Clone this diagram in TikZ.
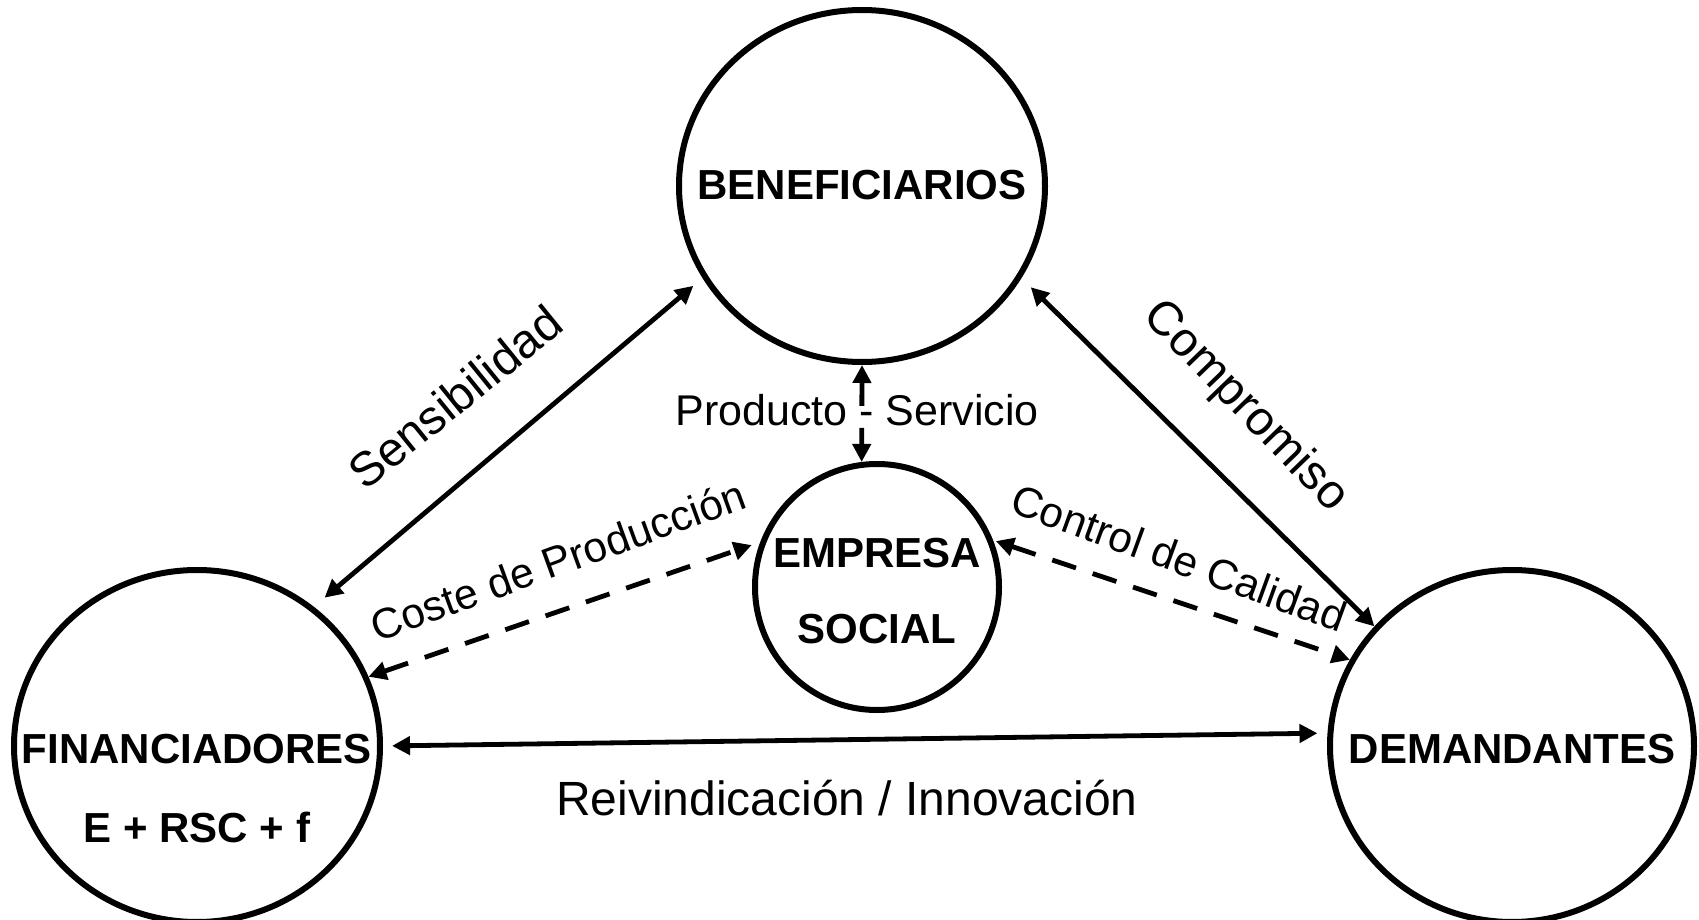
\documentclass[tikz,border=0pt]{standalone}
\usepackage{fontspec}
\setmainfont{Liberation Sans}
\usetikzlibrary{arrows.meta,shapes.geometric}
\begin{document}
\begin{tikzpicture}[x=0.5pt,y=-0.5pt,
  circ/.style={draw,line width=3pt,ellipse,inner sep=0pt},
  boldtxt/.style={font=\fontsize{21}{25}\selectfont\bfseries,inner sep=0pt,anchor=base},
  lab/.style={font=\fontsize{21.3}{25}\selectfont,inner sep=0pt},
  biglab/.style={font=\fontsize{24}{28}\selectfont,inner sep=0pt},
  conn/.style={line width=2.4pt,{Triangle[length=9pt,width=9pt]}-{Triangle[length=9pt,width=9pt]}},
  dconn/.style={conn,dash pattern=on 12.5pt off 8.8pt}]
\useasboundingbox (0,0) rectangle (1699,920);

% circles
\node[circ,minimum width=183pt,minimum height=176pt] (ben) at (862,186) {};
\node[circ,minimum width=183pt,minimum height=176pt] (fin) at (197,746) {};
\node[circ,minimum width=182pt,minimum height=176pt] (dem) at (1512,746) {};
\node[circ,minimum width=122pt,minimum height=123pt] (emp) at (877,587) {};

% circle texts
\node[boldtxt] (benT) at (862,199) {BENEFICIARIOS};
\node[boldtxt] (finT1) at (197,763) {FINANCIADORES};
\node[boldtxt] (finT2) at (197,842) {E + RSC + f};
\node[boldtxt] (demT) at (1512,763) {DEMANDANTES};
\node[boldtxt] (empT1) at (877,567) {EMPRESA};
\node[boldtxt] (empT2) at (877,643) {SOCIAL};

% connector labels
\node[anchor=base,inner sep=0pt,font=\fontsize{21.5}{25}\selectfont] (ps) at (857,425) {Producto - Servicio};
\node[biglab,anchor=base] (rei) at (847,815) {Reivindicación / Innovación};
\node[biglab,rotate=39] (sen) at (455,397) {Sensibilidad};
\node[biglab,rotate=-46] (com) at (1245,407) {Compromiso};
\node[lab,rotate=20] (cos) at (558,560) {Coste de Producción};
\node[lab,rotate=-20] (con) at (1179,558) {Control de Calidad};

% connectors
\draw[conn,shorten <=7pt,shorten >=6pt] (fin.50) -- (ben.210);
\draw[conn,shorten <=6.5pt] (ben.-30) -- (dem.139);
\draw[conn,shorten <=4.5pt,shorten >=5pt] (fin.0) -- (dem.176.5);
\draw[dconn,shorten >=4.5pt] (fin.22) -- (emp.159);
\draw[dconn,shorten <=1.5pt] (emp.22) -- (dem.152.6);
\draw[conn,dash pattern=on 12pt off 11pt] (ben.south) -- (emp.97);
\end{tikzpicture}
\end{document}
